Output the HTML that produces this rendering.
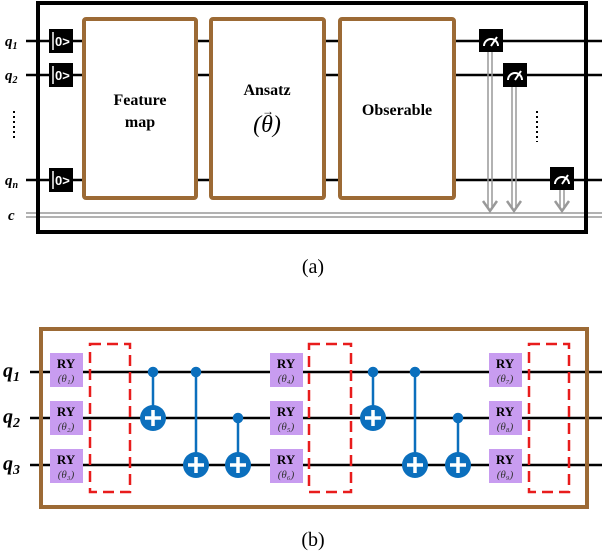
<!DOCTYPE html>
<html><head><style>body{margin:0;background:#fff}svg{display:block}</style></head><body>
<svg width="602" height="552" viewBox="0 0 602 552" xmlns="http://www.w3.org/2000/svg" font-family="Liberation Serif, serif">
<!-- top panel -->
<g stroke="#000" stroke-width="2.5">
<line x1="26" y1="41" x2="602" y2="41"/><line x1="26" y1="75" x2="602" y2="75"/><line x1="26" y1="180" x2="602" y2="180"/>
</g>
<g stroke="#999" stroke-width="1.5"><line x1="26" y1="213" x2="602" y2="213"/><line x1="26" y1="217" x2="602" y2="217"/></g>
<rect x="38" y="3" width="548" height="229" fill="none" stroke="#000" stroke-width="4"/>
<g font-style="italic" font-weight="bold" font-size="15">
<text x="5" y="46">q<tspan font-size="10" dy="3">1</tspan></text>
<text x="5" y="80">q<tspan font-size="10" dy="3">2</tspan></text>
<text x="5" y="185">q<tspan font-size="10" dy="3">n</tspan></text>
<text x="8" y="220">c</text>
</g>
<g fill="none" stroke="#000" stroke-width="2" stroke-dasharray="2,3"><line x1="14" y1="111" x2="14" y2="141"/><line x1="537" y1="111" x2="537" y2="142"/></g>
<g font-family="Liberation Sans, sans-serif" font-weight="bold" font-size="13" fill="#fff">
<rect x="49" y="29" width="24" height="24" fill="#000"/><line x1="53" y1="32" x2="53" y2="50" stroke="#fff" stroke-width="1.5"/><text x="55" y="46">0&gt;</text>
<rect x="49" y="63" width="24" height="24" fill="#000"/><line x1="53" y1="66" x2="53" y2="84" stroke="#fff" stroke-width="1.5"/><text x="55" y="80">0&gt;</text>
<rect x="49" y="168" width="24" height="24" fill="#000"/><line x1="53" y1="171" x2="53" y2="189" stroke="#fff" stroke-width="1.5"/><text x="55" y="185">0&gt;</text>
</g>
<g fill="#fff" stroke="#9c6a35" stroke-width="4">
<rect x="84" y="19" width="112" height="179" rx="2"/>
<rect x="211" y="19" width="113" height="179" rx="2"/>
<rect x="340" y="19" width="114" height="179" rx="2"/>
</g>
<g font-weight="bold" font-size="16" text-anchor="middle">
<text x="140" y="105">Feature</text><text x="140" y="127">map</text>
<text x="267" y="95">Ansatz</text>
<text x="397" y="115">Obserable</text>
</g>
<text x="267" y="132" text-anchor="middle" font-size="24" font-style="italic">(θ)</text>
<text x="268" y="115" text-anchor="middle" font-size="12">→</text>
<!-- measurements -->
<g stroke="#999" stroke-width="1.5" fill="none">
<line x1="488" y1="52" x2="488" y2="208"/><line x1="492" y1="52" x2="492" y2="208"/>
<line x1="512" y1="87" x2="512" y2="208"/><line x1="516" y1="87" x2="516" y2="208"/>
<line x1="560" y1="190" x2="560" y2="208"/><line x1="564" y1="190" x2="564" y2="208"/>
<polyline points="483,201 490,211 497,201" stroke-width="2.5"/>
<polyline points="507,201 514,211 521,201" stroke-width="2.5"/>
<polyline points="555,201 562,211 569,201" stroke-width="2.5"/>
</g>
<g>
<rect x="479" y="29" width="24" height="23" fill="#000"/><path d="M484 46 A7 7 0 0 1 498 46" stroke="#fff" stroke-width="2" fill="none"/><line x1="491" y1="46" x2="497" y2="37" stroke="#fff" stroke-width="2"/>
<rect x="503" y="63" width="24" height="24" fill="#000"/><path d="M508 80 A7 7 0 0 1 522 80" stroke="#fff" stroke-width="2" fill="none"/><line x1="515" y1="80" x2="521" y2="71" stroke="#fff" stroke-width="2"/>
<rect x="550" y="167" width="24" height="23" fill="#000"/><path d="M555 184 A7 7 0 0 1 569 184" stroke="#fff" stroke-width="2" fill="none"/><line x1="562" y1="184" x2="568" y2="175" stroke="#fff" stroke-width="2"/>
</g>
<text x="313" y="273" text-anchor="middle" font-size="20">(a)</text>
<!-- bottom panel -->
<g stroke="#000" stroke-width="2.5">
<line x1="30" y1="372" x2="602" y2="372"/><line x1="30" y1="418" x2="602" y2="418"/><line x1="30" y1="465" x2="602" y2="465"/>
</g>
<rect x="41" y="329" width="546" height="178" fill="none" stroke="#9c6a35" stroke-width="4"/>
<g font-style="italic" font-weight="bold" font-size="20">
<text x="3" y="377">q<tspan font-size="14" dy="4">1</tspan></text>
<text x="3" y="423">q<tspan font-size="14" dy="4">2</tspan></text>
<text x="3" y="470">q<tspan font-size="14" dy="4">3</tspan></text>
</g>
<g fill="none" stroke="#e81c1c" stroke-width="2.5" stroke-dasharray="11,6">
<rect x="90" y="344" width="40" height="148"/><rect x="309" y="344" width="42" height="148"/><rect x="529" y="344" width="40" height="148"/>
</g>
<g>
<g fill="#c89cf0">
<rect x="50" y="353" width="33" height="34"/><rect x="50" y="401" width="33" height="34"/><rect x="50" y="449" width="33" height="34"/>
<rect x="270" y="353" width="33" height="34"/><rect x="270" y="401" width="33" height="34"/><rect x="270" y="449" width="33" height="34"/>
<rect x="489" y="353" width="33" height="34"/><rect x="489" y="401" width="33" height="34"/><rect x="489" y="449" width="33" height="34"/>
</g>
<g text-anchor="middle" font-weight="bold" font-size="13">
<text x="66" y="368">RY</text><text x="66" y="416">RY</text><text x="66" y="464">RY</text>
<text x="286" y="368">RY</text><text x="286" y="416">RY</text><text x="286" y="464">RY</text>
<text x="505" y="368">RY</text><text x="505" y="416">RY</text><text x="505" y="464">RY</text>
</g>
<g text-anchor="middle" font-style="italic" font-size="11" fill="#333">
<text x="66" y="382">(θ₁)</text><text x="66" y="430">(θ₂)</text><text x="66" y="478">(θ₃)</text>
<text x="286" y="382">(θ₄)</text><text x="286" y="430">(θ₅)</text><text x="286" y="478">(θ₆)</text>
<text x="505" y="382">(θ₇)</text><text x="505" y="430">(θ₈)</text><text x="505" y="478">(θ₉)</text>
</g>
</g>
<g stroke="#0b6fbd" stroke-width="2.5" fill="#0b6fbd">
<line x1="153" y1="372" x2="153" y2="418"/><circle cx="153" cy="372" r="4"/>
<line x1="196" y1="372" x2="196" y2="465"/><circle cx="196" cy="372" r="4"/>
<line x1="238" y1="418" x2="238" y2="465"/><circle cx="238" cy="418" r="4"/>
<line x1="373" y1="372" x2="373" y2="418"/><circle cx="373" cy="372" r="4"/>
<line x1="415" y1="372" x2="415" y2="465"/><circle cx="415" cy="372" r="4"/>
<line x1="458" y1="418" x2="458" y2="465"/><circle cx="458" cy="418" r="4"/>
</g>
<g fill="#0b6fbd">
<circle cx="153" cy="418" r="13"/><circle cx="196" cy="465" r="13"/><circle cx="238" cy="465" r="13"/>
<circle cx="373" cy="418" r="13"/><circle cx="415" cy="465" r="13"/><circle cx="458" cy="465" r="13"/>
</g>
<g stroke="#fff" stroke-width="3.5">
<path d="M145 418H161M153 410V426"/><path d="M188 465H204M196 457V473"/><path d="M230 465H246M238 457V473"/>
<path d="M365 418H381M373 410V426"/><path d="M407 465H423M415 457V473"/><path d="M450 465H466M458 457V473"/>
</g>
<text x="313" y="546" text-anchor="middle" font-size="20">(b)</text>
</svg>
</body></html>
